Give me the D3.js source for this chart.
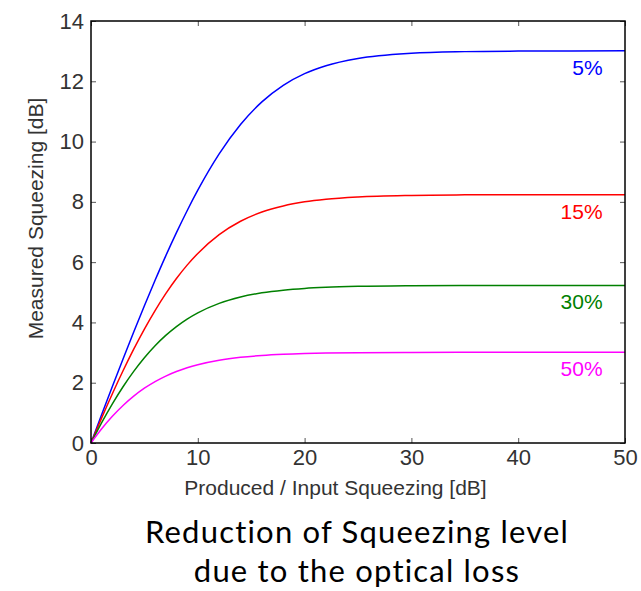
<!DOCTYPE html>
<html>
<head>
<meta charset="utf-8">
<script src="https://cdn.jsdelivr.net/npm/d3@7"></script>
<style>
  body { margin: 0; background: #fff; }
  svg { display: block; }
  .tick text { font-family: "Liberation Sans", Arial, sans-serif; font-size: 22px; fill: #333; }
  .tick line { stroke: #555; }
</style>
</head>
<body>
<svg id="chart"></svg>
<script>
// produced squeezing (x) and measured squeezing for each loss level
const produced = [0, 1, 2, 3, 4, 5, 6, 7, 8, 9, 10, 12, 14, 16, 18, 20, 22, 25, 30, 35, 40, 45, 50];
const loss5  = [0, 0.945, 1.875, 2.789, 3.684, 4.555, 5.397, 6.207, 6.977, 7.706, 8.386, 9.590, 10.565, 11.317, 11.867, 12.255, 12.518, 12.757, 12.929, 12.984, 13.002, 13.008, 13.010];
const loss15 = [0, 0.834, 1.635, 2.396, 3.112, 3.780, 4.395, 4.954, 5.456, 5.901, 6.289, 6.912, 7.356, 7.662, 7.865, 8.000, 8.087, 8.162, 8.215, 8.233, 8.239, 8.239, 8.239];
const loss30 = [0, 0.675, 1.298, 1.866, 2.375, 2.828, 3.226, 3.569, 3.862, 4.111, 4.318, 4.632, 4.843, 4.981, 5.071, 5.129, 5.165, 5.197, 5.219, 5.226, 5.228, 5.229, 5.229];
const loss50 = [0, 0.471, 0.886, 1.246, 1.555, 1.817, 2.037, 2.220, 2.372, 2.495, 2.596, 2.744, 2.841, 2.903, 2.942, 2.967, 2.983, 2.997, 3.006, 3.009, 3.010, 3.010, 3.010];
const lossLabels = ["5%", "15%", "30%", "50%"];
const lossColors = ["#0000ff", "#ff0000", "#008000", "#ff00ff"];
const xTicks = [0, 10, 20, 30, 40, 50];
const yTicks = [0, 2, 4, 6, 8, 10, 12, 14];
const captionLines = ["Reduction of Squeezing level", "due to the optical loss"];

const series = [loss5, loss15, loss30, loss50].map((vals, i) => ({
  label: lossLabels[i],
  color: lossColors[i],
  points: produced.map((x, j) => ({ x: x, y: vals[j] }))
}));

const width = 641, height = 591;
const margin = { top: 21, right: 16, bottom: 148, left: 91 };
const innerW = width - margin.left - margin.right;
const innerH = height - margin.top - margin.bottom;

const svg = d3.select("#chart").attr("width", width).attr("height", height);
const g = svg.append("g").attr("transform", `translate(${margin.left},${margin.top})`);

const x = d3.scaleLinear().domain([0, 50]).range([0, innerW]);
const y = d3.scaleLinear().domain([0, 14]).range([innerH, 0]);

// axes with inward ticks
g.append("g").attr("transform", `translate(0,${innerH})`)
  .call(d3.axisBottom(x).tickValues(xTicks).tickSize(-5).tickPadding(6))
  .call(a => a.select(".domain").remove());
g.append("g")
  .call(d3.axisLeft(y).tickValues(yTicks).tickSize(-5).tickPadding(7))
  .call(a => a.select(".domain").remove());
g.append("g")
  .call(d3.axisTop(x).tickValues(xTicks).tickSize(-5).tickFormat(""))
  .call(a => a.select(".domain").remove());
g.append("g").attr("transform", `translate(${innerW},0)`)
  .call(d3.axisRight(y).tickValues(yTicks).tickSize(-5).tickFormat(""))
  .call(a => a.select(".domain").remove());

const line = d3.line()
  .x(d => x(d.x))
  .y(d => y(d.y))
  .curve(d3.curveMonotoneX);

g.selectAll(".series")
  .data(series)
  .join("path")
  .attr("class", "series")
  .attr("fill", "none")
  .attr("stroke", d => d.color)
  .attr("stroke-width", 1.5)
  .attr("d", d => line(d.points));

g.selectAll(".series-label")
  .data(series)
  .join("text")
  .attr("class", "series-label")
  .attr("x", x(47.9))
  .attr("y", d => y(d.points[d.points.length - 1].y) + 24)
  .attr("text-anchor", "end")
  .attr("font-family", "Liberation Sans, Arial, sans-serif")
  .attr("font-size", 21)
  .attr("fill", d => d.color)
  .text(d => d.label);

// frame
g.append("rect")
  .attr("width", innerW)
  .attr("height", innerH)
  .attr("fill", "none")
  .attr("stroke", "#000")
  .attr("stroke-width", 1.5);

// axis labels
g.append("text")
  .attr("x", 244.5)
  .attr("y", innerH + 52)
  .attr("text-anchor", "middle")
  .attr("font-family", "Liberation Sans, Arial, sans-serif")
  .attr("font-size", 21)
  .attr("fill", "#333")
  .text("Produced / Input Squeezing [dB]");

g.append("text")
  .attr("transform", "rotate(-90)")
  .attr("x", -(218.5 - margin.top))
  .attr("y", -48)
  .attr("text-anchor", "middle")
  .attr("font-family", "Liberation Sans, Arial, sans-serif")
  .attr("font-size", 21)
  .attr("fill", "#333")
  .text("Measured Squeezing [dB]");

// caption, two separate lines
svg.selectAll(".caption")
  .data(captionLines)
  .join("text")
  .attr("class", "caption")
  .attr("x", 357)
  .attr("y", (d, i) => 543 + i * 39)
  .attr("text-anchor", "middle")
  .attr("font-family", "Lato, Noto Sans, sans-serif")
  .attr("font-size", 31)
  .attr("letter-spacing", 1.2)
  .attr("fill", "#000")
  .text(d => d);
</script>
</body>
</html>
